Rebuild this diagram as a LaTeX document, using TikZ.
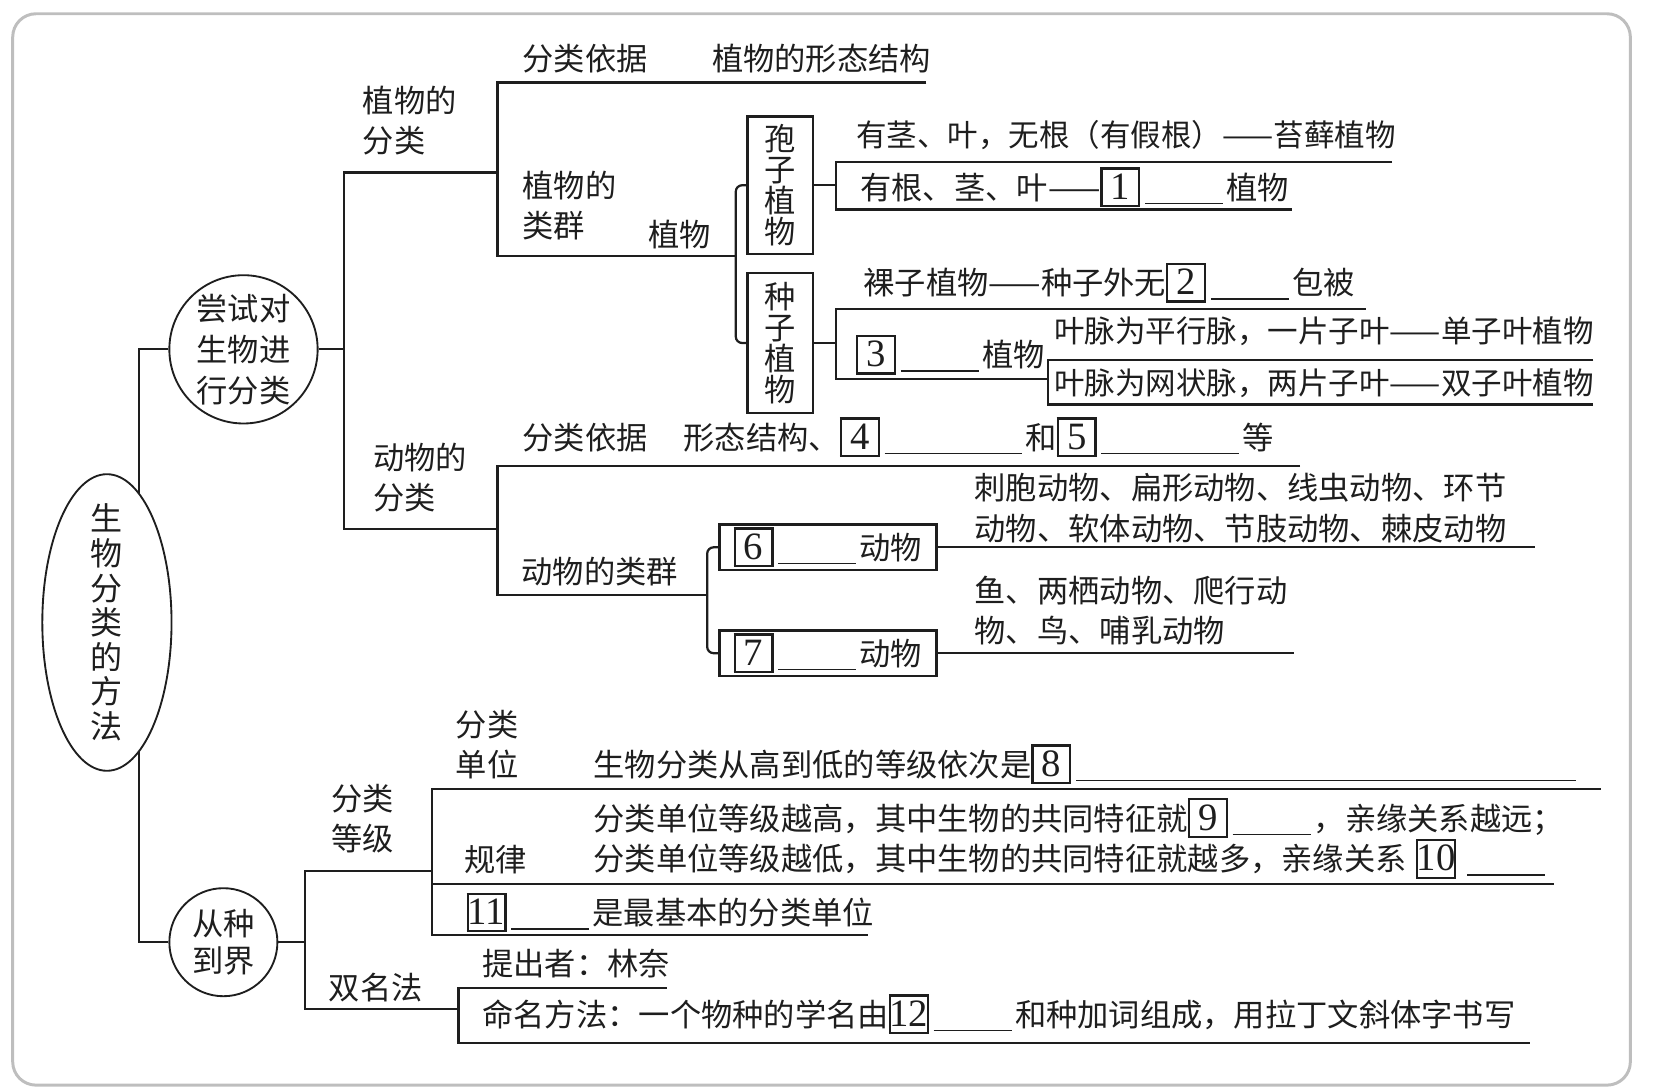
\documentclass[tikz,border=0pt]{standalone}
\usepackage{fontspec}
\setmainfont{Liberation Serif}
\newfontfamily\cjk{Noto Sans CJK SC}
\usetikzlibrary{positioning,shapes.geometric}
\definecolor{mapink}{RGB}{30,30,30}
\definecolor{mapframe}{RGB}{190,190,190}
\newcommand\numbox[1]{{\fboxsep=0pt\fboxrule=0.6pt\framebox[1.28em]{\rule[-0.18em]{0pt}{1.13em}{\rmfamily\fontsize{10.4}{10}\selectfont #1}}}}
\newcommand\blank[1][2.5em]{\hspace{0.15em}\rule[-0.16em]{#1}{0.4pt}\hspace{0.1em}}
\newcommand\tightlines{\setlength\lineskiplimit{-20pt}}
\tikzset{
  word/.style={anchor=west, inner sep=0pt, align=left, text=mapink,
               font=\cjk\fontsize{8.4}{10.8}\selectfont\tightlines},
  narrow/.style={word, font=\cjk\fontsize{8.2}{10.8}\selectfont},
  link/.style={draw=mapink, line width=0.6pt},
  forkline/.style={link, rounded corners=0.06cm},
  ring/.style={circle, draw=mapink, line width=0.5pt, fill=white, inner sep=0pt,
               align=center, text=mapink},
  root/.style={ellipse, draw=mapink, line width=0.5pt, fill=white, inner xsep=0pt,
               inner ysep=-0.14cm, minimum width=1.22cm, minimum height=2.8cm,
               align=center, text=mapink,
               font=\cjk\fontsize{8.6}{9.3}\selectfont\tightlines},
  tallbox/.style={draw=mapink, line width=0.7pt, fill=white, inner sep=0pt, align=center,
                  minimum width=0.62cm, minimum height=1.3cm, text=mapink,
                  font=\cjk\fontsize{8.4}{8.3}\selectfont\tightlines},
  groupbox/.style={draw=mapink, line width=0.7pt, inner sep=0pt, minimum width=2.05cm,
                   minimum height=0.43cm, text=mapink, font=\cjk\fontsize{8.4}{10}\selectfont},
}
\begin{document}
\begin{tikzpicture}[x=0.01cm, y=-0.01cm]
\useasboundingbox (0,0) rectangle (1568,1031);
\draw[mapframe, line width=0.8pt, rounded corners=0.22cm] (12,13) rectangle (1540,1025);

% the two main branches
\node[ring, minimum size=1.4cm, font=\cjk\fontsize{8.4}{11}\selectfont] (try) at (230,330) {尝试对\\生物进\\行分类};
\node[ring, minimum size=1.02cm, font=\cjk\fontsize{8.4}{9.7}\selectfont] (rank) at (211,890) {从种\\到界};
\coordinate (spT) at (131,330);
\coordinate (spB) at (131,890);
\draw[link] (try.west) -- (spT) -- (spB) -- (rank.west);
\node[root] (root) at (101,588) {生\\物\\分\\类\\的\\方\\法};

% plants and animals
\coordinate (plJ) at (325,330);
\coordinate (plA) at (470,163);
\coordinate (anA) at (470,500);
\draw[link] (try.east) -- (plJ);
\draw[link] (plA) -- (plA -| plJ) -- (anA -| plJ) -- (anA);
\node[word] (plLbl) at (342,114) {植物的\\分类};
\node[word] (anLbl) at (352,451) {动物的\\分类};

% plants
\coordinate (plBase) at (875,78);
\coordinate (plBr) at (695,242);
\draw[link] (plBase) -- (plBase -| plA) -- (plBr -| plA) -- (plBr);
\node[word] (plKey) at (493,55) {分类依据};
\node[word] (plVal) at (672,55) {植物的形态结构};
\node[word] (plGrp) at (493,194) {植物的\\类群};
\node[word] (plKind) at (612,222) {植物};
\node[tallbox] (spore) at (737,175) {孢\\子\\植\\物};
\node[tallbox, minimum height=1.32cm] (seed) at (737,324) {种\\子\\植\\物};
\draw[forkline] (spore.west) -| (plBr) |- (seed.west);

\coordinate (spJ) at (790,175);
\coordinate (mossEnd) at (1315,153);
\coordinate (fernEnd) at (1220,198);
\draw[link] (spore.east) -- (spJ);
\draw[link] (mossEnd) -- (mossEnd -| spJ) -- (fernEnd -| spJ) -- (fernEnd);
\node[narrow] (moss) at (808,128) {有茎、叶，无根（有假根）——苔藓植物};
\node[word] (fern) at (812,177) {有根、茎、叶——\numbox{1}\blank 植物};

\coordinate (sdJ) at (790,324);
\coordinate (gymEnd) at (1290,292);
\coordinate (angJ) at (990,358);
\draw[link] (seed.east) -- (sdJ);
\draw[link] (gymEnd) -- (gymEnd -| sdJ) -- (angJ -| sdJ) -- (angJ);
\node[word] (gym) at (815,267) {裸子植物——种子外无\numbox{2}\blank 包被};
\node[word] (ang) at (808,335) {\numbox{3}\blank 植物};
\coordinate (monoEnd) at (1505,340);
\coordinate (diEnd) at (1505,382);
\draw[link] (monoEnd) -- (monoEnd -| angJ) -- (diEnd -| angJ) -- (diEnd);
\node[narrow] (mono) at (995,313) {叶脉为平行脉，一片子叶——单子叶植物};
\node[narrow] (di) at (995,362) {叶脉为网状脉，两片子叶——双子叶植物};

% animals
\coordinate (anBase) at (1228,440);
\coordinate (anBr) at (668,562);
\draw[link] (anBase) -- (anBase -| anA) -- (anBr -| anA) -- (anBr);
\node[word] (anKey) at (493,413) {分类依据};
\node[word] (anVal) at (645,413) {形态结构、\numbox{4}\blank[4.4em]和\numbox{5}\blank[4.4em]等};
\node[word] (anGrp) at (492,540) {动物的类群};
\node[groupbox] (inv) at (782,517) {\numbox{6}\blank 动物\hspace{0.35em}};
\node[groupbox] (vert) at (782,617) {\numbox{7}\blank 动物\hspace{0.35em}};
\draw[forkline] (inv.west) -| (anBr) |- (vert.west);
\coordinate (invEnd) at (1450,517);
\coordinate (vertEnd) at (1222,617);
\draw[link] (inv.east) -- (invEnd);
\draw[link] (vert.east) -- (vertEnd);
\node[word] (invTxt) at (920,480) {刺胞动物、扁形动物、线虫动物、环节\\动物、软体动物、节肢动物、棘皮动物};
\node[word] (vertTxt) at (920,577) {鱼、两栖动物、爬行动\\物、鸟、哺乳动物};

% from species to kingdom
\coordinate (rkJ) at (288,890);
\coordinate (lvA) at (408,823);
\coordinate (bnA) at (433,953);
\draw[link] (rank.east) -- (rkJ);
\draw[link] (lvA) -- (lvA -| rkJ) -- (bnA -| rkJ) -- (bnA);
\node[word] (lvLbl) at (312,773) {分类\\等级};
\node[word] (bnLbl) at (310,933) {双名法};

\coordinate (unitEnd) at (1512,745);
\coordinate (ruleEnd) at (1468,835);
\coordinate (baseEnd) at (820,883);
\draw[link] (unitEnd) -- (unitEnd -| lvA) -- (baseEnd -| lvA) -- (baseEnd);
\draw[link] (ruleEnd -| lvA) -- (ruleEnd);
\node[word] (unitLbl) at (430,703) {分类\\单位};
\node[word] (unitTxt) at (560,722) {生物分类从高到低的等级依次是\numbox{8}\blank[16em]};
\node[word] (ruleLbl) at (438,812) {规律};
\node[word, font=\cjk\fontsize{8.4}{11}\selectfont] (ruleTxt) at (560,792) {分类单位等级越高，其中生物的共同特征就\numbox{9}\blank，亲缘关系越远；\\分类单位等级越低，其中生物的共同特征就越多，亲缘关系\hspace{0.3em}\numbox{10}\hspace{0.2em}\blank};
\node[word] (baseTxt) at (440,862) {\numbox{11}\blank 是最基本的分类单位};

\coordinate (nameBy) at (630,933);
\coordinate (nameHow) at (1445,985);
\draw[link] (nameBy) -- (nameBy -| bnA) -- (nameHow -| bnA) -- (nameHow);
\node[word] (byTxt) at (455,910) {提出者：林奈};
\node[word] (howTxt) at (455,958) {命名方法：一个物种的学名由\numbox{12}\blank 和种加词组成，用拉丁文斜体字书写};
\end{tikzpicture}
\end{document}
